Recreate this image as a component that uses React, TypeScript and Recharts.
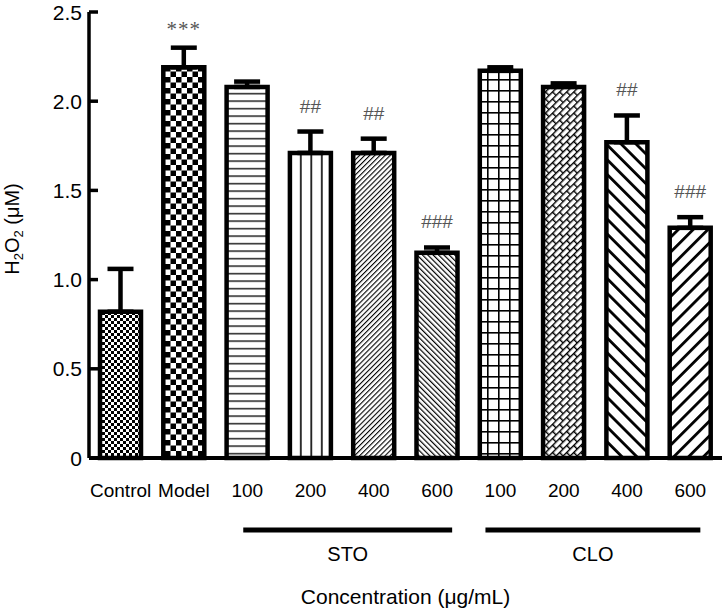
import React from "react";
import { BarChart, Bar, XAxis, YAxis, Cell, ErrorBar, LabelList } from "recharts";

// categories and groups under the x axis
const categories = ["Control", "Model", "100", "200", "400", "600", "100", "200", "400", "600"];
const groups = ["", "", "STO", "STO", "STO", "STO", "CLO", "CLO", "CLO", "CLO"];

// H2O2 (μM) mean and upper error
const means = [0.82, 2.19, 2.08, 1.71, 1.71, 1.15, 2.17, 2.08, 1.77, 1.29];
const errors = [0.24, 0.11, 0.03, 0.12, 0.08, 0.03, 0.02, 0.02, 0.15, 0.06];
const marks = ["", "***", "", "##", "##", "###", "", "", "##", "###"];

const yTicks = [0, 0.5, 1, 1.5, 2, 2.5];

const patterns = [
  "pControl",
  "pModel",
  "pHoriz",
  "pVert",
  "pFineFwd",
  "pFineBack",
  "pGrid",
  "pBrick",
  "pThickBack",
  "pThickFwd",
];

const data = categories.map((c, i) => ({
  name: c,
  group: groups[i],
  value: means[i],
  err: [0, errors[i]],
  mark: marks[i],
}));

const W = 725;
const H = 611;
const MARGIN = { top: 12, right: 3, bottom: 0, left: 0 };
const Y_AXIS_W = 89;
const X_AXIS_H = 153;
const BAND = (W - Y_AXIS_W - MARGIN.right) / categories.length;
const FONT = "'Liberation Sans', Arial, sans-serif";

// where the group bar starts / ends relative to first / last tick centre
const GROUP_PAD: Record<string, [number, number]> = { STO: [4, 15], CLO: [15, 10] };

function XTick(props: any) {
  const { x, y, index, payload } = props;
  const g = groups[index];
  const start = g && groups[index - 1] !== g;
  let last = index;
  while (groups[last + 1] === g) last++;
  const pad = GROUP_PAD[g] || [8, 8];
  const x1 = x - pad[0];
  const x2 = x + (last - index) * BAND + pad[1];
  return (
    <g>
      <text x={x} y={y + 39} textAnchor="middle" fontSize={19} fill="#000" fontFamily={FONT}>
        {payload.value}
      </text>
      {start && (
        <>
          <line x1={x1} x2={x2} y1={y + 72} y2={y + 72} stroke="#000" strokeWidth={5} />
          <text x={(x1 + x2) / 2} y={y + 103} textAnchor="middle" fontSize={20} fill="#000" fontFamily={FONT}>
            {g}
          </text>
        </>
      )}
    </g>
  );
}

function YTick(props: any) {
  const { x, y, payload } = props;
  const v = payload.value;
  return (
    <g>
      <line x1={x + 7} x2={x + 16} y1={y} y2={y} stroke="#000" strokeWidth={3.5} />
      <text x={x} y={y + 7.5} textAnchor="end" fontSize={21} fill="#000" fontFamily={FONT}>
        {v === 0 ? "0" : v.toFixed(1)}
      </text>
    </g>
  );
}

function YTitle(props: any) {
  const vb = props.viewBox || { x: 0, y: 12, width: 89, height: 446 };
  const cx = 19;
  const cy = vb.y + vb.height / 2 - 6;
  return (
    <text
      x={cx}
      y={cy}
      transform={`rotate(-90 ${cx} ${cy})`}
      textAnchor="middle"
      fontSize={20}
      fill="#000"
      fontFamily={FONT}
    >
      H<tspan fontSize={13} dy={4}>2</tspan>
      <tspan dy={-4}>O</tspan>
      <tspan fontSize={13} dy={4}>2</tspan>
      <tspan dy={-4}> (μM)</tspan>
    </text>
  );
}

function Mark(props: any) {
  const { x, y, width, height, index } = props;
  const m = marks[index];
  if (!m) return null;
  const ppu = height / means[index];
  const capY = y - errors[index] * ppu;
  const star = m.includes("*");
  return (
    <text
      x={x + width / 2}
      y={capY - (star ? 12 : 19)}
      textAnchor="middle"
      fontSize={star ? 21 : 19}
      letterSpacing={star ? 1 : 0}
      fill="#555"
      fontFamily={star ? "'Liberation Serif', serif" : FONT}
    >
      {m}
    </text>
  );
}

export default function App() {
  return (
    <div style={{ position: "absolute", left: 0, top: 0, background: "#fff" }}>
      <BarChart width={W} height={H} data={data} margin={MARGIN} barSize={41} style={{ fontFamily: FONT }}>
        <defs>
          <pattern id="pControl" width={6} height={6} patternUnits="userSpaceOnUse">
            <rect width={6} height={6} fill="#fff" />
            <rect width={3} height={3} fill="#000" />
            <rect x={3} y={3} width={3} height={3} fill="#000" />
          </pattern>
          <pattern id="pModel" width={11} height={11} patternUnits="userSpaceOnUse">
            <rect width={11} height={11} fill="#fff" />
            <rect width={5.5} height={5.5} fill="#000" />
            <rect x={5.5} y={5.5} width={5.5} height={5.5} fill="#000" />
          </pattern>
          <pattern id="pHoriz" width={8} height={7.5} patternUnits="userSpaceOnUse">
            <rect width={8} height={7.5} fill="#fff" />
            <rect y={3} width={8} height={1.3} fill="#000" />
          </pattern>
          <pattern id="pVert" width={10.5} height={10} patternUnits="userSpaceOnUse" patternTransform="translate(2 0)">
            <rect width={10.5} height={10} fill="#fff" />
            <rect x={4} width={1.6} height={10} fill="#000" />
          </pattern>
          <pattern id="pFineFwd" width={3.6} height={10} patternUnits="userSpaceOnUse" patternTransform="rotate(45)">
            <rect width={3.6} height={10} fill="#fff" />
            <rect width={1.1} height={10} fill="#000" />
          </pattern>
          <pattern id="pFineBack" width={3.8} height={10} patternUnits="userSpaceOnUse" patternTransform="rotate(-45)">
            <rect width={3.8} height={10} fill="#fff" />
            <rect width={1.2} height={10} fill="#000" />
          </pattern>
          <pattern id="pGrid" width={11} height={11} patternUnits="userSpaceOnUse" patternTransform="translate(3 2)">
            <rect width={11} height={11} fill="#fff" />
            <rect width={11} height={1.6} fill="#000" />
            <rect width={1.6} height={11} fill="#000" />
          </pattern>
          <pattern id="pBrick" width={10} height={10} patternUnits="userSpaceOnUse" patternTransform="rotate(-45)">
            <rect width={10} height={10} fill="#fff" />
            <rect width={10} height={1.4} fill="#000" />
            <rect y={5} width={10} height={1.4} fill="#000" />
            <rect width={1.4} height={5} fill="#000" />
            <rect x={5} y={5} width={1.4} height={5} fill="#000" />
          </pattern>
          <pattern id="pThickBack" width={10.5} height={10} patternUnits="userSpaceOnUse" patternTransform="rotate(-45)">
            <rect width={10.5} height={10} fill="#fff" />
            <rect width={2.8} height={10} fill="#000" />
          </pattern>
          <pattern id="pThickFwd" width={10.5} height={10} patternUnits="userSpaceOnUse" patternTransform="rotate(45)">
            <rect width={10.5} height={10} fill="#fff" />
            <rect width={2.8} height={10} fill="#000" />
          </pattern>
        </defs>
        <XAxis
          dataKey="name"
          height={X_AXIS_H}
          interval={0}
          tickLine={false}
          tickSize={0}
          tickMargin={0}
          tick={<XTick />}
          axisLine={{ stroke: "#000", strokeWidth: 4 }}
          label={{
            value: "Concentration (μg/mL)",
            position: "insideBottom",
            offset: 7,
            fontSize: 21,
            fill: "#000",
            fontFamily: FONT,
          }}
        />
        <YAxis
          width={Y_AXIS_W}
          domain={[0, 2.5]}
          ticks={yTicks}
          interval={0}
          tickLine={false}
          tickSize={0}
          tickMargin={7}
          tick={<YTick />}
          axisLine={{ stroke: "#000", strokeWidth: 3.5 }}
          label={{ content: (p: any) => <YTitle viewBox={p.viewBox} /> }}
        />
        <Bar dataKey="value" stroke="#000" strokeWidth={4.5} isAnimationActive={false}>
          {data.map((_, i) => (
            <Cell key={i} fill={`url(#${patterns[i]})`} />
          ))}
          <ErrorBar dataKey="err" direction="y" width={13} stroke="#000" strokeWidth={4.5} />
          <LabelList dataKey="mark" content={(p: any) => <Mark {...p} />} />
        </Bar>
      </BarChart>
    </div>
  );
}
